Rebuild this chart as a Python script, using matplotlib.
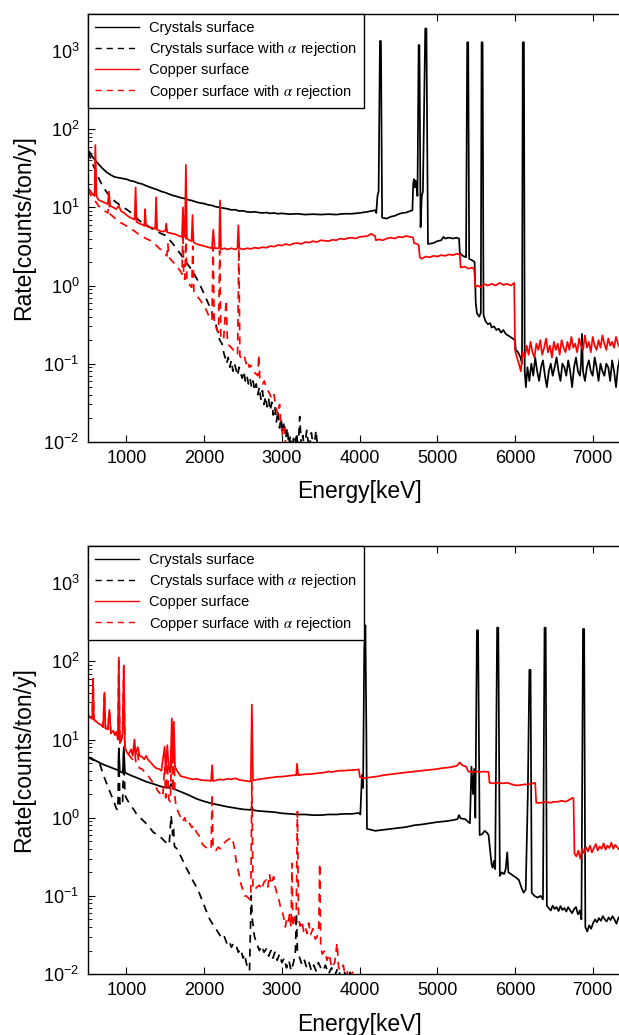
import matplotlib
matplotlib.use("Agg")
import matplotlib.pyplot as plt

plt.rcParams['font.family'] = ['Liberation Sans', 'DejaVu Sans']
plt.rcParams['mathtext.fontset'] = 'stix'

energy_ticks = [1000, 2000, 3000, 4000, 5000, 6000, 7000]
labels = ["Crystals surface",
          "Crystals surface with $\\alpha$ rejection",
          "Copper surface",
          "Copper surface with $\\alpha$ rejection"]

# ---------------- top panel (energy keV, rate counts/ton/y) ----------------
top_crystals = [
    (500, 50), (520, 52), (560, 45), (600, 40), (650, 35), (700, 31), (750, 28), (800, 26),
    (850, 24.5), (900, 24), (950, 23.5), (1000, 23), (1050, 22), (1100, 21.5), (1150, 20.5),
    (1200, 20), (1250, 19), (1300, 18.2), (1350, 17.5), (1400, 16.8), (1450, 16), (1500, 15.5),
    (1550, 14.8), (1600, 14.2), (1650, 13.8), (1700, 13.3), (1750, 13), (1800, 12.5),
    (1850, 12.2), (1900, 11.7), (1950, 11.4), (2000, 11.2), (2050, 10.8), (2100, 10.6),
    (2150, 10.2), (2200, 10), (2250, 9.8), (2300, 9.6), (2350, 9.3), (2400, 9.35), (2450, 9.0),
    (2500, 9.05), (2550, 8.8), (2600, 8.7), (2650, 8.8), (2700, 8.6), (2750, 8.5), (2800, 8.6),
    (2850, 8.4), (2900, 8.5), (2950, 8.3), (3000, 8.4), (3100, 8.2), (3200, 8.3), (3300, 8.1),
    (3400, 8.2), (3500, 8.1), (3600, 8.2), (3700, 8.1), (3800, 8.3), (3900, 8.3), (4000, 8.5),
    (4100, 8.8), (4150, 9.0), (4200, 9.2), (4215, 8.5), (4230, 14), (4245, 16), (4262, 1350),
    (4275, 1350), (4290, 7.4), (4350, 7.2), (4400, 7.6), (4450, 7.8), (4500, 8.2), (4550, 8.5),
    (4600, 8.6), (4650, 9.0), (4680, 9.2), (4690, 20), (4700, 23), (4710, 18), (4720, 22),
    (4730, 21), (4745, 14), (4760, 1200), (4770, 1200), (4785, 5.6), (4800, 14), (4815, 16),
    (4845, 1950), (4860, 1950), (4880, 3.4), (4950, 3.5), (5000, 3.7), (5050, 3.8), (5080, 4.2),
    (5100, 4.0), (5150, 4.1), (5200, 4.0), (5250, 4.1), (5280, 4.0), (5290, 2.6), (5330, 2.4),
    (5370, 2.3), (5385, 1300), (5398, 1300), (5410, 2.2), (5450, 2.1), (5480, 2.0), (5495, 0.6),
    (5510, 0.44), (5540, 0.40), (5560, 0.45), (5570, 1300), (5583, 1300), (5595, 0.42),
    (5620, 0.35), (5650, 0.32), (5680, 0.33), (5700, 0.29), (5730, 0.30), (5760, 0.27),
    (5790, 0.28), (5820, 0.25), (5850, 0.27), (5880, 0.24), (5910, 0.23), (5940, 0.22),
    (5970, 0.21), (6000, 0.2), (6010, 0.15), (6040, 0.14), (6070, 0.12), (6090, 0.10),
    (6100, 1300), (6115, 1300), (6125, 0.08), (6140, 0.05), (6160, 0.09), (6185, 0.06),
    (6210, 0.10), (6235, 0.07), (6260, 0.12), (6285, 0.08), (6310, 0.06), (6335, 0.09),
    (6360, 0.11), (6385, 0.07), (6410, 0.05), (6435, 0.08), (6460, 0.10), (6485, 0.07),
    (6510, 0.09), (6535, 0.12), (6560, 0.08), (6585, 0.06), (6610, 0.10), (6635, 0.09),
    (6660, 0.07), (6685, 0.11), (6710, 0.08), (6735, 0.05), (6760, 0.09), (6785, 0.12),
    (6810, 0.08), (6835, 0.07), (6850, 0.10), (6862, 0.24), (6875, 0.08), (6900, 0.06),
    (6925, 0.09), (6950, 0.11), (6975, 0.08), (7000, 0.07), (7025, 0.12), (7050, 0.09),
    (7075, 0.06), (7100, 0.10), (7125, 0.08), (7150, 0.07), (7175, 0.10), (7200, 0.09),
    (7225, 0.06), (7250, 0.11), (7275, 0.08), (7300, 0.05), (7325, 0.09), (7350, 0.12),
    (7375, 0.10), (7400, 0.13), (7500, 0.11),
]

top_crystals_rej = [
    (500, 52), (530, 45), (560, 37), (600, 30), (640, 24), (680, 20), (720, 17), (760, 15),
    (800, 13.5), (850, 12), (900, 11), (950, 10), (1000, 9.5), (1050, 8.7), (1100, 8),
    (1150, 7), (1200, 6.4), (1250, 6.0), (1300, 5.6), (1350, 5.2), (1400, 4.9), (1450, 4.6),
    (1500, 4.4), (1550, 3.9), (1600, 3.4), (1650, 2.9), (1700, 2.5), (1750, 2.1), (1800, 1.8),
    (1850, 1.55), (1900, 1.25), (1950, 1.0), (2000, 0.78), (2050, 0.6), (2100, 0.46),
    (2150, 0.32), (2200, 0.2), (2230, 0.18), (2250, 0.14), (2270, 0.12), (2290, 0.10),
    (2310, 0.12), (2330, 0.09), (2350, 0.11), (2370, 0.08), (2390, 0.10), (2410, 0.085),
    (2430, 0.07), (2450, 0.09), (2470, 0.075), (2490, 0.065), (2510, 0.08), (2530, 0.06),
    (2550, 0.07), (2570, 0.055), (2590, 0.065), (2610, 0.05), (2630, 0.06), (2650, 0.045),
    (2670, 0.055), (2690, 0.04), (2710, 0.05), (2730, 0.035), (2750, 0.045), (2770, 0.03),
    (2790, 0.038), (2810, 0.028), (2830, 0.035), (2850, 0.025), (2870, 0.032), (2890, 0.022),
    (2910, 0.028), (2930, 0.018), (2950, 0.025), (2970, 0.015), (2990, 0.02), (3010, 0.013),
    (3030, 0.018), (3050, 0.011), (3070, 0.015), (3090, 0.009), (3110, 0.012), (3130, 0.008),
    (3150, 0.011), (3170, 0.009), (3190, 0.013), (3210, 0.008), (3230, 0.021), (3250, 0.009),
    (3270, 0.012), (3290, 0.008), (3320, 0.014), (3350, 0.008), (3380, 0.013), (3410, 0.008),
    (3440, 0.014), (3460, 0.008),
]

top_copper = [
    (500, 18), (520, 17), (560, 15), (590, 14), (600, 63), (615, 14), (640, 12.5), (680, 12),
    (720, 11.5), (760, 11), (775, 16), (790, 10.5), (830, 10), (870, 9.5), (900, 10.5),
    (930, 9), (970, 8.5), (1000, 8), (1040, 7.5), (1080, 7.2), (1105, 7), (1118, 18),
    (1130, 6.5), (1170, 6.2), (1210, 6), (1230, 5.8), (1240, 9.5), (1252, 5.8), (1290, 5.6),
    (1330, 5.5), (1370, 5.3), (1382, 13.5), (1394, 5.2), (1430, 5), (1470, 4.9), (1500, 5.0),
    (1512, 6.2), (1525, 4.8), (1560, 4.7), (1600, 4.6), (1640, 4.5), (1680, 4.3), (1715, 4.2),
    (1727, 10), (1740, 4.2), (1752, 4.5), (1765, 35), (1778, 4.0), (1810, 3.8), (1838, 3.7),
    (1850, 8), (1862, 3.6), (1900, 3.4), (1950, 3.3), (2000, 3.2), (2050, 3.1), (2100, 3.0),
    (2118, 5.2), (2135, 3.0), (2170, 3.0), (2192, 3.0), (2204, 12.3), (2216, 2.9), (2260, 3.0),
    (2300, 2.9), (2350, 3.0), (2400, 2.9), (2428, 3.0), (2440, 5.9), (2452, 3.0), (2500, 2.9),
    (2550, 3.0), (2600, 2.95), (2650, 3.05), (2700, 3.0), (2750, 3.1), (2800, 3.05),
    (2850, 3.2), (2900, 3.15), (2950, 3.3), (3000, 3.25), (3050, 3.4), (3100, 3.3),
    (3150, 3.45), (3200, 3.5), (3250, 3.4), (3300, 3.6), (3350, 3.55), (3400, 3.7),
    (3450, 3.6), (3500, 3.8), (3550, 3.75), (3600, 3.7), (3650, 3.85), (3700, 3.8), (3750, 4.0),
    (3800, 3.9), (3850, 4.05), (3900, 4.1), (3950, 4.0), (4000, 4.2), (4050, 4.25), (4100, 4.3),
    (4150, 4.6), (4180, 4.4), (4200, 4.3), (4210, 3.8), (4250, 3.9), (4300, 3.8), (4350, 4.0),
    (4400, 4.1), (4450, 4.0), (4500, 4.2), (4550, 4.15), (4600, 4.3), (4650, 4.2), (4690, 4.1),
    (4700, 3.5), (4740, 3.4), (4760, 3.3), (4775, 2.3), (4800, 2.2), (4850, 2.35), (4900, 2.3),
    (4950, 2.4), (5000, 2.35), (5050, 2.45), (5100, 2.4), (5150, 2.5), (5200, 2.45),
    (5250, 2.55), (5290, 2.5), (5300, 1.7), (5350, 1.75), (5400, 1.65), (5450, 1.7),
    (5475, 1.6), (5490, 0.95), (5520, 1.0), (5560, 0.95), (5600, 1.05), (5650, 1.0),
    (5700, 1.05), (5750, 1.0), (5800, 1.08), (5850, 1.02), (5900, 1.05), (5950, 1.0),
    (5990, 1.08), (6000, 0.15), (6025, 0.12), (6050, 0.10), (6075, 0.08), (6100, 0.14),
    (6125, 0.12), (6150, 0.17), (6175, 0.13), (6200, 0.19), (6225, 0.14), (6250, 0.12),
    (6275, 0.18), (6300, 0.15), (6325, 0.20), (6350, 0.13), (6375, 0.16), (6400, 0.21),
    (6425, 0.14), (6450, 0.17), (6475, 0.12), (6500, 0.19), (6525, 0.15), (6550, 0.18),
    (6575, 0.13), (6600, 0.20), (6625, 0.16), (6650, 0.14), (6675, 0.19), (6700, 0.15),
    (6725, 0.22), (6750, 0.16), (6775, 0.18), (6800, 0.14), (6825, 0.21), (6850, 0.17),
    (6875, 0.15), (6900, 0.23), (6925, 0.16), (6950, 0.19), (6975, 0.14), (7000, 0.22),
    (7025, 0.17), (7050, 0.15), (7075, 0.20), (7100, 0.16), (7125, 0.23), (7150, 0.18),
    (7175, 0.15), (7200, 0.21), (7225, 0.17), (7250, 0.19), (7275, 0.16), (7300, 0.22),
    (7325, 0.18), (7350, 0.16), (7375, 0.21), (7400, 0.25), (7500, 0.2),
]

top_copper_rej = [
    (500, 17), (530, 15), (560, 13.5), (600, 12), (640, 10.5), (680, 9.5), (720, 9),
    (760, 8.5), (775, 12), (790, 8.2), (830, 7.6), (870, 7.0), (910, 6.5), (950, 6.2),
    (1000, 5.8), (1050, 5.4), (1100, 5.0), (1125, 4.8), (1150, 4.6), (1200, 4.3), (1250, 4.0),
    (1300, 3.8), (1340, 3.6), (1380, 3.3), (1420, 3.0), (1460, 2.8), (1500, 2.5), (1520, 2.4),
    (1533, 3.4), (1546, 2.3), (1580, 2.1), (1620, 1.9), (1660, 1.7), (1700, 1.5), (1715, 1.4),
    (1726, 5), (1737, 1.3), (1752, 1.2), (1765, 4.5), (1778, 1.1), (1800, 1.05), (1840, 0.95),
    (1854, 3.2), (1868, 0.85), (1900, 0.75), (1950, 0.65), (1983, 0.58), (2030, 0.48),
    (2068, 0.39), (2100, 0.36), (2115, 3.1), (2130, 0.32), (2160, 0.28), (2185, 0.25),
    (2200, 2.8), (2215, 0.22), (2250, 0.2), (2283, 0.65), (2300, 0.18), (2350, 0.16),
    (2400, 0.14), (2430, 0.13), (2446, 3.0), (2460, 0.125), (2500, 0.11), (2520, 0.12),
    (2541, 0.10), (2560, 0.11), (2580, 0.09), (2600, 0.095), (2627, 0.08), (2660, 0.075),
    (2690, 0.07), (2703, 0.13), (2716, 0.065), (2750, 0.055), (2775, 0.06), (2800, 0.048),
    (2840, 0.042), (2870, 0.035), (2900, 0.04), (2920, 0.028), (2950, 0.022), (2970, 0.03),
    (2990, 0.016), (3010, 0.012), (3030, 0.015), (3050, 0.009),
]

# ---------------- bottom panel ----------------
bot_crystals = [
    (500, 6.0), (550, 5.7), (600, 5.4), (650, 5.1), (700, 4.8), (750, 4.6), (800, 4.4),
    (850, 4.2), (880, 4.1), (895, 4.0), (902, 7.7), (915, 3.9), (940, 3.8), (955, 4.0),
    (966, 8.0), (980, 3.8), (1000, 3.7), (1050, 3.5), (1100, 3.35), (1150, 3.2), (1200, 3.05),
    (1250, 2.9), (1300, 2.8), (1350, 2.7), (1400, 2.6), (1450, 2.5), (1500, 2.45), (1550, 2.4),
    (1575, 2.7), (1600, 2.35), (1650, 2.25), (1700, 2.15), (1750, 2.05), (1800, 1.95),
    (1850, 1.85), (1900, 1.75), (1950, 1.68), (2000, 1.62), (2100, 1.52), (2200, 1.45),
    (2300, 1.38), (2400, 1.33), (2500, 1.28), (2600, 1.26), (2614, 1.38), (2630, 1.25),
    (2700, 1.22), (2800, 1.2), (2900, 1.18), (3000, 1.14), (3100, 1.12), (3200, 1.1),
    (3300, 1.1), (3400, 1.08), (3500, 1.08), (3600, 1.1), (3700, 1.1), (3800, 1.12),
    (3900, 1.12), (3990, 1.15), (4010, 1.1), (4030, 3.5), (4045, 2.4), (4060, 150),
    (4075, 290), (4088, 10), (4095, 0.72), (4150, 0.7), (4200, 0.68), (4300, 0.7),
    (4400, 0.72), (4500, 0.74), (4600, 0.76), (4700, 0.8), (4800, 0.82), (4900, 0.85),
    (5000, 0.88), (5100, 0.9), (5200, 0.93), (5260, 0.96), (5280, 1.08), (5300, 0.98),
    (5360, 0.96), (5400, 0.88), (5420, 0.85), (5440, 4.5), (5460, 2.0), (5475, 4.2),
    (5490, 1.0), (5510, 250), (5525, 250), (5545, 0.6), (5580, 0.62), (5610, 0.68),
    (5640, 0.64), (5660, 0.6), (5680, 0.38), (5700, 0.25), (5712, 0.23), (5730, 0.28),
    (5745, 0.22), (5770, 270), (5785, 270), (5805, 0.18), (5830, 0.2), (5860, 0.19),
    (5880, 0.22), (5900, 0.36), (5915, 0.2), (5950, 0.19), (5980, 0.18), (6020, 0.17),
    (6050, 0.16), (6080, 0.13), (6110, 0.11), (6138, 0.12), (6150, 0.4), (6165, 2),
    (6185, 78), (6200, 78), (6215, 0.11), (6250, 0.1), (6290, 0.095), (6330, 0.1),
    (6360, 0.09), (6380, 270), (6395, 270), (6410, 0.075), (6435, 0.07), (6460, 0.065),
    (6485, 0.075), (6510, 0.068), (6535, 0.072), (6560, 0.064), (6585, 0.074), (6610, 0.066),
    (6635, 0.07), (6660, 0.063), (6685, 0.072), (6710, 0.065), (6735, 0.06), (6760, 0.068),
    (6785, 0.072), (6810, 0.058), (6835, 0.065), (6855, 0.05), (6875, 260), (6890, 260),
    (6905, 0.04), (6930, 0.035), (6955, 0.042), (6980, 0.038), (7005, 0.045), (7030, 0.05),
    (7055, 0.046), (7080, 0.052), (7105, 0.048), (7130, 0.055), (7155, 0.05), (7180, 0.047),
    (7205, 0.053), (7230, 0.049), (7255, 0.055), (7280, 0.05), (7305, 0.044), (7330, 0.052),
    (7355, 0.056), (7380, 0.06), (7400, 0.065), (7500, 0.06),
]

bot_crystals_rej = [
    (500, 6.0), (600, 5.3), (660, 4.8), (696, 3.7), (730, 3.0), (760, 2.5), (800, 2.0),
    (840, 1.6), (868, 1.32), (890, 1.25), (902, 6.9), (915, 1.5), (932, 1.6), (950, 1.5),
    (966, 7.3), (980, 2.0), (996, 1.8), (1050, 1.45), (1100, 1.25), (1125, 1.13), (1200, 0.95),
    (1250, 0.85), (1300, 0.75), (1340, 0.66), (1400, 0.6), (1450, 0.55), (1511, 0.48),
    (1550, 0.45), (1575, 1.07), (1595, 0.6), (1605, 0.75), (1618, 0.43), (1650, 0.4),
    (1700, 0.32), (1768, 0.23), (1800, 0.2), (1850, 0.16), (1900, 0.13), (1940, 0.107),
    (2000, 0.075), (2068, 0.051), (2100, 0.045), (2150, 0.038), (2197, 0.032), (2230, 0.028),
    (2260, 0.03), (2290, 0.025), (2320, 0.027), (2350, 0.022), (2380, 0.025), (2412, 0.023),
    (2440, 0.019), (2470, 0.021), (2500, 0.016), (2520, 0.018), (2541, 0.014), (2560, 0.012),
    (2584, 0.011), (2605, 0.1), (2620, 0.05), (2648, 0.03), (2680, 0.024), (2710, 0.02),
    (2740, 0.023), (2770, 0.019), (2800, 0.021), (2830, 0.017), (2860, 0.02), (2885, 0.016),
    (2910, 0.019), (2940, 0.015), (2970, 0.018), (3000, 0.014), (3030, 0.016), (3060, 0.012),
    (3090, 0.015), (3120, 0.011), (3150, 0.014), (3175, 0.02), (3186, 0.06), (3200, 0.02),
    (3230, 0.016), (3260, 0.013), (3290, 0.015), (3320, 0.012), (3350, 0.014), (3380, 0.011),
    (3410, 0.013), (3440, 0.011), (3470, 0.014), (3500, 0.012), (3530, 0.011), (3560, 0.013),
    (3600, 0.01), (3640, 0.012), (3680, 0.0095), (3720, 0.012), (3760, 0.009), (3800, 0.011),
    (3840, 0.0085), (3880, 0.0105), (3920, 0.008),
]

bot_copper = [
    (500, 32), (510, 20), (540, 19), (560, 18.5), (570, 60), (582, 18), (610, 17), (640, 16),
    (670, 15.5), (700, 14.5), (717, 40), (730, 14), (760, 13.5), (780, 24), (800, 12),
    (830, 13), (850, 11.5), (870, 12.5), (890, 10), (902, 112), (915, 9), (935, 10), (950, 12),
    (966, 89), (980, 8), (1000, 7), (1030, 6.5), (1060, 7.5), (1080, 6.2), (1103, 10),
    (1120, 6.5), (1146, 8), (1170, 6.2), (1200, 6), (1230, 5.6), (1253, 6.2), (1280, 5.5),
    (1320, 5), (1350, 4.6), (1382, 4.3), (1420, 4.2), (1450, 4.0), (1491, 8.1), (1505, 4.0),
    (1526, 8.5), (1545, 4.2), (1565, 3.8), (1584, 18.6), (1597, 5), (1610, 17), (1625, 4.5),
    (1650, 4.0), (1680, 3.6), (1700, 3.4), (1750, 3.3), (1800, 3.2), (1850, 3.1), (1900, 3.15),
    (1950, 3.05), (2000, 3.0), (2050, 3.0), (2090, 2.95), (2102, 4.7), (2115, 2.95),
    (2150, 3.0), (2200, 3.1), (2250, 3.05), (2300, 3.15), (2350, 3.1), (2400, 3.2),
    (2450, 3.05), (2500, 3.0), (2550, 2.95), (2600, 2.9), (2614, 28), (2628, 3.0), (2700, 3.1),
    (2750, 3.15), (2800, 3.2), (2850, 3.25), (2900, 3.3), (2950, 3.35), (3000, 3.35),
    (3050, 3.4), (3100, 3.45), (3150, 3.5), (3185, 3.5), (3195, 4.9), (3210, 3.5), (3250, 3.55),
    (3300, 3.6), (3350, 3.6), (3400, 3.65), (3450, 3.7), (3500, 3.75), (3550, 3.8), (3600, 3.9),
    (3650, 3.85), (3700, 3.95), (3750, 4.0), (3800, 4.0), (3850, 4.05), (3900, 4.05),
    (3950, 4.1), (3990, 4.15), (4005, 3.3), (4050, 3.2), (4100, 3.25), (4150, 3.3),
    (4200, 3.35), (4250, 3.4), (4300, 3.5), (4350, 3.55), (4400, 3.6), (4450, 3.65),
    (4500, 3.7), (4550, 3.75), (4600, 3.8), (4650, 3.85), (4700, 3.9), (4750, 3.95),
    (4800, 4.0), (4850, 4.05), (4900, 4.1), (4950, 4.15), (5000, 4.2), (5050, 4.3),
    (5100, 4.35), (5150, 4.4), (5200, 4.5), (5250, 4.6), (5290, 5.1), (5320, 4.7), (5370, 4.5),
    (5400, 3.9), (5450, 3.85), (5500, 3.9), (5550, 3.85), (5600, 3.9), (5660, 3.85),
    (5672, 2.8), (5720, 2.75), (5780, 2.8), (5840, 2.75), (5900, 2.8), (5950, 2.7),
    (6000, 2.6), (6050, 2.6), (6100, 2.65), (6200, 2.7), (6260, 2.8), (6273, 1.55),
    (6320, 1.55), (6400, 1.6), (6450, 1.55), (6500, 1.6), (6550, 1.6), (6600, 1.65),
    (6650, 1.6), (6700, 1.7), (6740, 1.8), (6753, 1.75), (6765, 0.35), (6790, 0.32),
    (6815, 0.38), (6840, 0.30), (6865, 0.40), (6890, 0.35), (6915, 0.42), (6940, 0.37),
    (6965, 0.44), (6990, 0.36), (7015, 0.41), (7040, 0.46), (7065, 0.38), (7090, 0.43),
    (7115, 0.40), (7140, 0.47), (7165, 0.39), (7190, 0.44), (7215, 0.41), (7240, 0.48),
    (7265, 0.40), (7290, 0.45), (7315, 0.42), (7340, 0.39), (7365, 0.44), (7390, 0.41),
    (7500, 0.42),
]

bot_copper_rej = [
    (500, 32), (510, 20), (540, 19), (560, 18.5), (570, 60), (582, 18), (610, 17), (640, 16),
    (670, 15.5), (700, 14.5), (717, 40), (730, 14), (760, 13.5), (780, 24), (800, 12),
    (830, 13), (850, 11.5), (870, 12.5), (890, 10), (902, 112), (915, 9), (935, 10), (950, 12),
    (966, 89), (980, 8), (996, 6.9), (1040, 6.2), (1082, 5.5), (1103, 8), (1120, 5.2),
    (1146, 6.5), (1167, 4.3), (1200, 4.2), (1240, 3.8), (1275, 3.5), (1320, 3.0), (1360, 2.7),
    (1404, 2.2), (1440, 2.0), (1468, 1.86), (1491, 4.5), (1505, 1.8), (1526, 5), (1545, 1.7),
    (1565, 1.6), (1584, 10), (1597, 2.2), (1610, 9), (1625, 1.8), (1640, 1.38), (1680, 1.1),
    (1726, 0.89), (1750, 1.0), (1780, 0.8), (1812, 0.85), (1840, 0.75), (1870, 0.8),
    (1897, 0.66), (1930, 0.6), (1960, 0.5), (1983, 0.45), (2020, 0.42), (2050, 0.4),
    (2068, 0.41), (2090, 0.4), (2102, 2.0), (2115, 0.4), (2150, 0.38), (2180, 0.42),
    (2210, 0.4), (2240, 0.45), (2280, 0.5), (2326, 0.54), (2350, 0.5), (2369, 0.52),
    (2390, 0.4), (2412, 0.28), (2435, 0.22), (2455, 0.176), (2475, 0.14), (2498, 0.12),
    (2520, 0.10), (2541, 0.10), (2565, 0.095), (2590, 0.09), (2600, 0.1), (2614, 2.9),
    (2628, 0.12), (2648, 0.12), (2680, 0.13), (2712, 0.137), (2740, 0.12), (2770, 0.15),
    (2798, 0.16), (2820, 0.13), (2841, 0.19), (2860, 0.14), (2894, 0.176), (2915, 0.13),
    (2937, 0.107), (2960, 0.09), (2985, 0.07), (3000, 0.066), (3023, 0.053), (3045, 0.04),
    (3060, 0.05), (3080, 0.045), (3100, 0.06), (3118, 0.04), (3130, 0.26), (3142, 0.04),
    (3160, 0.05), (3185, 0.06), (3200, 1.2), (3215, 0.05), (3238, 0.041), (3260, 0.048),
    (3280, 0.035), (3300, 0.04), (3324, 0.033), (3345, 0.045), (3370, 0.032), (3400, 0.038),
    (3430, 0.028), (3453, 0.03), (3475, 0.04), (3487, 0.26), (3500, 0.022), (3520, 0.018),
    (3550, 0.02), (3581, 0.015), (3610, 0.018), (3640, 0.012), (3680, 0.014), (3710, 0.025),
    (3730, 0.012), (3760, 0.011), (3790, 0.013), (3820, 0.009), (3850, 0.011), (3881, 0.009),
    (3920, 0.011), (3950, 0.008),
]


def draw_panel(ax, crystals, crystals_rej, copper, copper_rej):
    styles = [('k', '-'), ('k', (0, (4.5, 3.5))), ('r', '-'), ('r', (0, (4.5, 3.5)))]
    for data, (col, ls), lab in zip([crystals, crystals_rej, copper, copper_rej], styles, labels):
        e, rate = zip(*data)
        ax.plot(e, rate, color=col, linestyle=ls, linewidth=1.25, label=lab)

    ax.set_yscale('log')
    ax.set_xlim(500, 7500)
    ax.set_ylim(1e-2, 3000)
    ax.set_xticks(energy_ticks)
    ax.tick_params(axis='both', which='major', direction='in', length=5, width=0.8,
                   labelsize=13, top=True, right=False, pad=6)
    ax.tick_params(axis='y', which='minor', direction='in', length=3, width=0.6, right=False)
    ax.tick_params(axis='x', which='minor', bottom=False, top=False)
    for sp in ax.spines.values():
        sp.set_linewidth(1.0)

    ax.set_xlabel('Energy[keV]', fontsize=16.5)
    ax.set_ylabel('Rate[counts/ton/y]', fontsize=16.5)
    ax.xaxis.set_label_coords(0.5, -0.09)
    ax.yaxis.set_label_coords(-0.096, 0.5)

    leg = ax.legend(loc='upper left', bbox_to_anchor=(0, 1), borderaxespad=0,
                    fontsize=10.5, handlelength=3.0, handletextpad=0.7,
                    labelspacing=0.35, borderpad=0.5, fancybox=False,
                    edgecolor='k', framealpha=1)
    leg.get_frame().set_linewidth(1.0)
    for line in leg.get_lines():
        line.set_linewidth(1.0)


fig = plt.figure(figsize=(6.19, 10.35), dpi=100)
ax1 = fig.add_axes([0.1415, 0.5732, 0.8788, 0.4133])
ax2 = fig.add_axes([0.1415, 0.0589, 0.8788, 0.4136])

draw_panel(ax1, top_crystals, top_crystals_rej, top_copper, top_copper_rej)
draw_panel(ax2, bot_crystals, bot_crystals_rej, bot_copper, bot_copper_rej)

fig.savefig('out.png', dpi=100, facecolor='white')
